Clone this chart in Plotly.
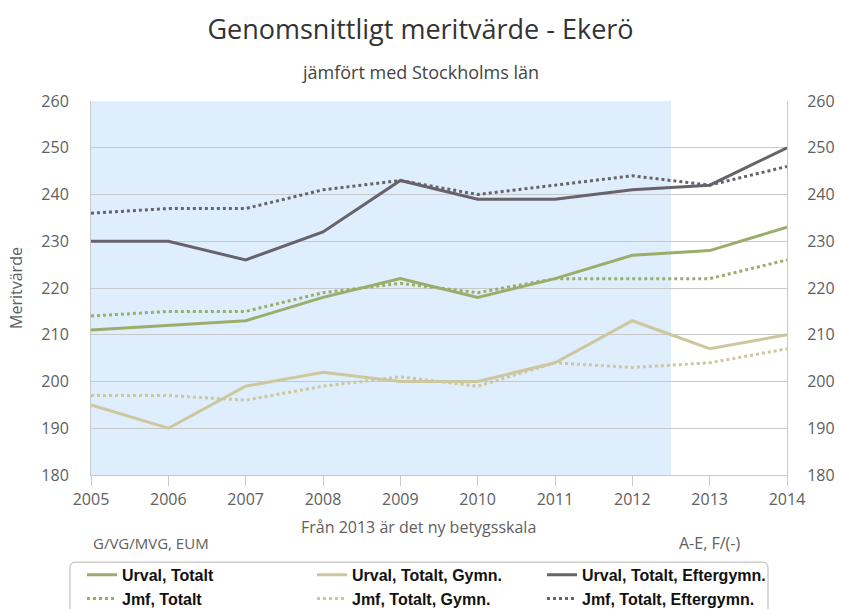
import plotly.graph_objects as go

years = [2005, 2006, 2007, 2008, 2009, 2010, 2011, 2012, 2013, 2014]

urval_totalt = [211, 212, 213, 218, 222, 218, 222, 227, 228, 233]
jmf_totalt = [214, 215, 215, 219, 221, 219, 222, 222, 222, 226]
urval_gymn = [195, 190, 199, 202, 200, 200, 204, 213, 207, 210]
jmf_gymn = [197, 197, 196, 199, 201, 199, 204, 203, 204, 207]
urval_efter = [230, 230, 226, 232, 243, 239, 239, 241, 242, 250]
jmf_efter = [236, 237, 237, 241, 243, 240, 242, 244, 242, 246]

GREEN = "#9bad6b"
BEIGE = "#cdc79e"
DARK = "#67626b"
FONT = "Open Sans"

series = [
    ("Urval, Totalt", urval_totalt, GREEN, "solid"),
    ("Urval, Totalt, Gymn.", urval_gymn, BEIGE, "solid"),
    ("Urval, Totalt, Eftergymn.", urval_efter, DARK, "solid"),
    ("Jmf, Totalt", jmf_totalt, GREEN, "dot"),
    ("Jmf, Totalt, Gymn.", jmf_gymn, BEIGE, "dot"),
    ("Jmf, Totalt, Eftergymn.", jmf_efter, DARK, "dot"),
]

fig = go.Figure()
for name, vals, col, dash in series:
    fig.add_trace( go.Scatter( x=years, y=vals, mode="lines", name=name,
                               line={ "color": col, "width": 3, "dash": dash } ) )

# invisible trace so the right-hand axis is drawn
fig.add_trace( go.Scatter( x=years, y=urval_totalt, yaxis="y2", mode="lines",
                           line={ "color": "rgba(0,0,0,0)" }, showlegend=False, hoverinfo="skip" ) )

# old grading scale period
fig.add_vrect( x0=2005, x1=2012.5, fillcolor="#deeefc", opacity=1, layer="below", line_width=0 )

axis_font = dict( family=FONT, size=16, color="#606060" )
fig.update_xaxes( range=[2005, 2014], dtick=1, showgrid=False, ticks="outside", ticklen=10,
                  tickcolor="#c8c8c8", showline=True, linecolor="#c8c8c8", tickfont=axis_font )
fig.update_layout(
    yaxis=dict( range=[180, 260], dtick=10, showgrid=True, gridcolor="#c8c8c8", gridwidth=1,
                showline=True, linecolor="#c8c8c8", tickfont=axis_font, zeroline=False,
                ticks="outside", ticklen=18, tickcolor="rgba(0,0,0,0)", automargin=False,
                title=dict( text="Meritvärde", font=dict( family=FONT, size=16, color="#606060" ), standoff=14 ) ),
    yaxis2=dict( range=[180, 260], dtick=10, overlaying="y", side="right", showgrid=False,
                 showline=True, linecolor="#c8c8c8", tickfont=axis_font, zeroline=False,
                 ticks="outside", ticklen=16, tickcolor="rgba(0,0,0,0)", automargin=False ),
)

fig.update_layout(
    width=841, height=609,
    plot_bgcolor="white", paper_bgcolor="white",
    margin={ "l": 91, "r": 54, "t": 101, "b": 134 },
    title=dict( text="Genomsnittligt meritvärde - Ekerö", x=0.5, xanchor="center",
                y=0.951, yanchor="middle", font=dict( family=FONT, size=27, color="#333333" ) ),
    legend=dict( orientation="h", xref="container", x=0.0975, xanchor="left",
                 yref="container", y=0.084, yanchor="top",
                 entrywidth=185, entrywidthmode="pixels", itemwidth=30, tracegroupgap=0,
                 font=dict( family="Liberation Sans", size=16, color="#111111", weight="bold" ),
                 bgcolor="rgba(0,0,0,0)" ),
    showlegend=True,
)

fig.add_annotation( text="jämfört med Stockholms län", xref="paper", yref="paper", x=0.4734, y=1.0775,
                    yanchor="middle", showarrow=False, font=dict( family=FONT, size=18, color="#444444" ) )
fig.add_annotation( text="Från 2013 är det ny betygsskala", xref="paper", yref="paper", x=0.47, y=-0.139,
                    yanchor="middle", showarrow=False, font=dict( family=FONT, size=16, color="#606060" ) )
fig.add_annotation( text="G/VG/MVG, EUM", xref="paper", yref="paper", x=0.0, y=-0.183, xanchor="left",
                    yanchor="middle", showarrow=False, font=dict( family=FONT, size=15, color="#606060" ) )
fig.add_annotation( text="A-E, F/(-)", xref="paper", yref="paper", x=0.935, y=-0.183, xanchor="right",
                    yanchor="middle", showarrow=False, font=dict( family=FONT, size=16, color="#606060" ) )

# rounded legend frame
x0, x1, y0, y1, r = -0.0302, 0.9727, -0.374, -0.233, 0.008
ry = r * 696 / 374
fig.add_shape( type="path", xref="paper", yref="paper", line=dict( color="#b4b4b4", width=1 ),
               path=f"M {x0},{y0} L {x0},{y1 - ry} Q {x0},{y1} {x0 + r},{y1} L {x1 - r},{y1} "
                    f"Q {x1},{y1} {x1},{y1 - ry} L {x1},{y0}" )

fig.write_html( "out.html", config={ "displayModeBar": False },
                post_script="document.body.style.margin='0';" )
